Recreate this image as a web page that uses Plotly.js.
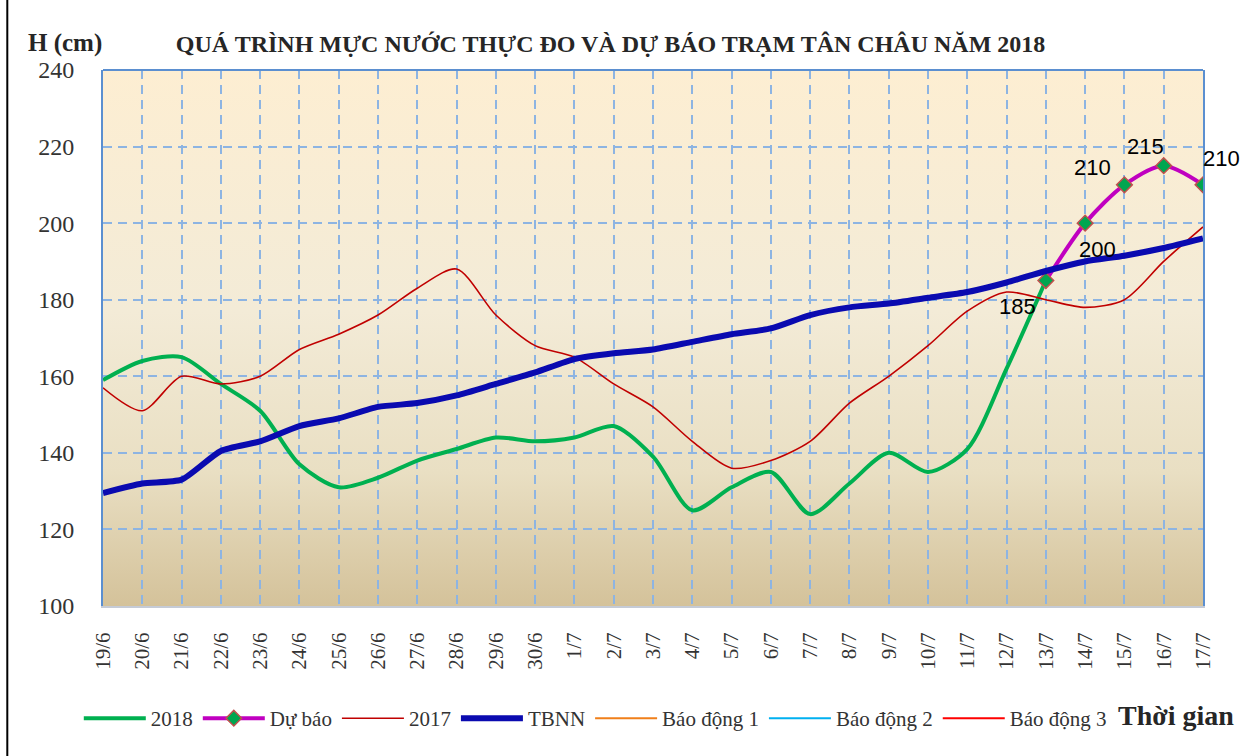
<!DOCTYPE html>
<html>
<head>
<meta charset="utf-8">
<script src="https://cdn.plot.ly/plotly-3.0.1.min.js"></script>
<style>html,body{margin:0;padding:0;background:#fff;}#chart{width:1246px;height:756px;}</style>
</head>
<body>
<div id="chart"></div>
<script>
const days = ["19/6","20/6","21/6","22/6","23/6","24/6","25/6","26/6","27/6","28/6","29/6","30/6",
  "1/7","2/7","3/7","4/7","5/7","6/7","7/7","8/7","9/7","10/7","11/7","12/7","13/7","14/7","15/7","16/7","17/7"];
const h2018 = [159,164,165,158,151,137,131,133.5,138,141,144,143,144,147,139,125,131,135,124,132,140,135,141,162,185];
const forecastDays = ["13/7","14/7","15/7","16/7","17/7"];
const forecast = [185,200,210,215,210];
const h2017 = [157,151,160,158,160,167,171,176,183,188,176,168,165,158,152,143,136,138,143,153,160,168,177,182,180,178,180,190,199];
const tbnn = [129.5,132,133,140.5,143,147,149,152,153,155,158,161,164.5,166,167,169,171,172.5,176,178,179,180.5,182,184.5,187.5,190,191.5,193.5,196];
const alarm1 = [350,350], alarm2 = [400,400], alarm3 = [450,450];
const alarmDays = ["19/6","17/7"];

const serif = "Liberation Serif, Times New Roman, serif";

const traces = [
  {x: days.slice(0,h2018.length), y: h2018, name: "2018", mode: "lines",
   line: {color: "#00b050", width: 4, shape: "spline", smoothing: 0.8}},
  {x: forecastDays, y: forecast, name: "Dự báo", mode: "lines+markers",
   line: {color: "#c000c0", width: 4, shape: "spline", smoothing: 0.8},
   marker: {symbol: "diamond", size: 12, color: "#00a650", line: {color: "#c0504d", width: 1.5}}},
  {x: days, y: h2017, name: "2017", mode: "lines",
   line: {color: "#c00000", width: 1.6, shape: "spline", smoothing: 0.8}},
  {x: days, y: tbnn, name: "TBNN", mode: "lines",
   line: {color: "#0a0ab0", width: 6, shape: "spline", smoothing: 0.6}},
  {x: alarmDays, y: alarm1, name: "Báo động 1", mode: "lines", line: {color: "#f07f1a", width: 2}},
  {x: alarmDays, y: alarm2, name: "Báo động 2", mode: "lines", line: {color: "#00b0f0", width: 2}},
  {x: alarmDays, y: alarm3, name: "Báo động 3", mode: "lines", line: {color: "#ff0000", width: 2}}
];

// forecast labels
const labelShift = [[-28,-26],[12,-26],[-32,17],[-18,19],[18,26]];
const annotations = forecast.map((v,i)=>({
  x: forecastDays[i], y: v, text: String(v), showarrow: false,
  xshift: labelShift[i][0], yshift: labelShift[i][1],
  font: {family: "Liberation Sans, Arial, sans-serif", size: 22, color: "#000"}
}));
annotations.push({xref:"paper", yref:"paper", x:-0.0345, y:1.05, xanchor:"center", yanchor:"middle",
  text:"<b>H (cm)</b>", showarrow:false, font:{family:serif, size:25, color:"#262626"}});
annotations.push({xref:"paper", yref:"paper", x:1.03, y:-0.205, xanchor:"right", yanchor:"middle",
  text:"<b>Thời gian</b>", showarrow:false, font:{family:serif, size:28, color:"#262626"}});

const grad = 'data:image/svg+xml;charset=utf-8,' + encodeURIComponent(
 '<svg xmlns="http://www.w3.org/2000/svg" width="100" height="100" preserveAspectRatio="none">' +
 '<defs><linearGradient id="g" x1="0" y1="0" x2="0" y2="1">' +
 '<stop offset="0" stop-color="#fdeed2"/><stop offset="0.45" stop-color="#f3ebd7"/>' +
 '<stop offset="0.75" stop-color="#e9dfc3"/><stop offset="1" stop-color="#d4c29a"/>' +
 '</linearGradient></defs><rect width="100" height="100" fill="url(#g)"/></svg>');

const layout = {
  width: 1246, height: 756,
  margin: {l: 103, r: 43, t: 70, b: 150},
  paper_bgcolor: "#ffffff", plot_bgcolor: "rgba(0,0,0,0)",
  title: {text: "<b>QUÁ TRÌNH MỰC NƯỚC THỰC ĐO VÀ DỰ BÁO TRẠM TÂN CHÂU NĂM 2018</b>",
    font: {family: serif, size: 24, color: "#262626"}, x: 0.49, xanchor: "center", y: 0.942, yanchor: "middle"},
  xaxis: {type: "category", categoryorder: "array", categoryarray: days, range: [0, 28],
    showgrid: true, gridcolor: "#8db4e2", gridwidth: 2, griddash: "9px,6px",
    showline: true, linecolor: "#c5cbd6", linewidth: 2, zeroline: false,
    ticks: "", tickangle: -90, ticklabelstandoff: 16,
    tickfont: {family: serif, size: 21, color: "#333"}},
  yaxis: {range: [100, 240], dtick: 20, tick0: 100,
    showgrid: true, gridcolor: "#8db4e2", gridwidth: 2, griddash: "9px,6px",
    showline: true, mirror: true, linecolor: "#5b8fd0", linewidth: 2, zeroline: false,
    ticks: "", ticklabelstandoff: 22,
    tickfont: {family: serif, size: 24, color: "#333"}},
  showlegend: true,
  legend: {orientation: "h", x: -0.022, xanchor: "left", y: -0.21, yanchor: "middle",
    font: {family: serif, size: 21, color: "#333"}, bgcolor: "rgba(0,0,0,0)", itemwidth: 62,
    traceorder: "normal"},
  images: [{source: grad, xref: "paper", yref: "paper", x: 0, y: 1, sizex: 1, sizey: 1,
    sizing: "stretch", layer: "below", xanchor: "left", yanchor: "top"}],
  shapes: [
    {type: "line", xref: "paper", yref: "paper", x0: 0, x1: 1, y0: 1, y1: 1, line: {color: "#5b8fd0", width: 2}},
    {type: "line", xref: "paper", yref: "paper", x0: -0.087, x1: -0.087, y0: -0.29, y1: 1.14, line: {color: "#000", width: 2}}
  ],
  annotations: annotations
};

Plotly.newPlot("chart", traces, layout, {displayModeBar: false, staticPlot: true});
</script>
</body>
</html>
